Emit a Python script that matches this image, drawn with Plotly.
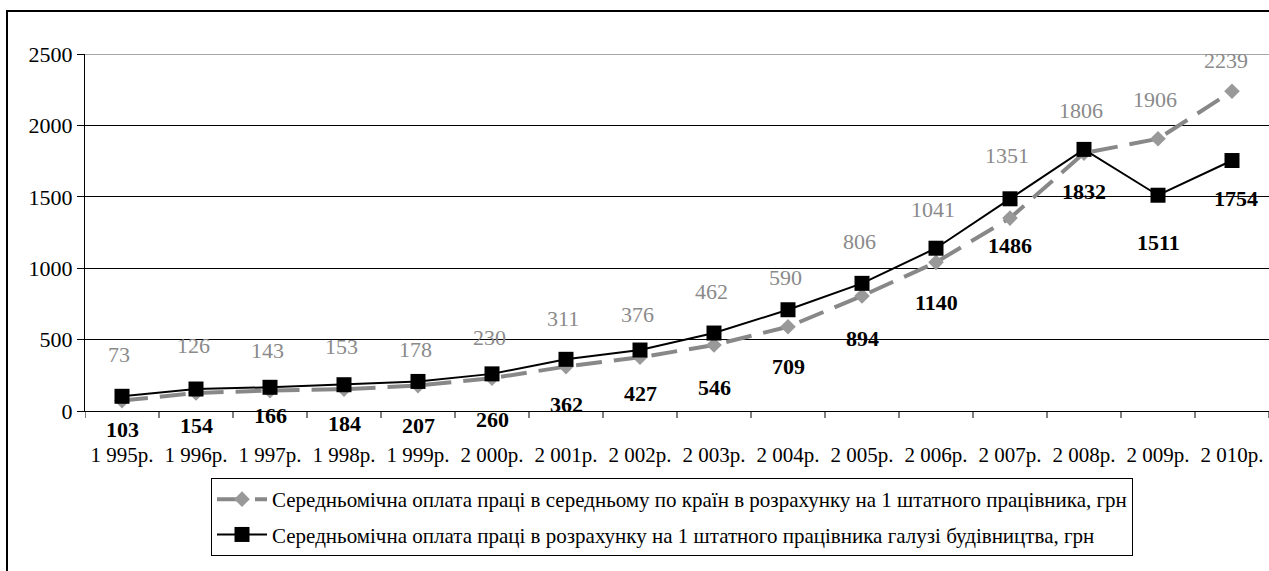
import plotly.graph_objects as go

years = ["1 995р.", "1 996р.", "1 997р.", "1 998р.", "1 999р.", "2 000р.", "2 001р.", "2 002р.",
         "2 003р.", "2 004р.", "2 005р.", "2 006р.", "2 007р.", "2 008р.", "2 009р.", "2 010р."]
country_avg = [73, 126, 143, 153, 178, 230, 311, 376, 462, 590, 806, 1041, 1351, 1806, 1906, 2239]
construction = [103, 154, 166, 184, 207, 260, 362, 427, 546, 709, 894, 1140, 1486, 1832, 1511, 1754]

name_avg = "Середньомічна оплата праці в середньому по країн в розрахунку на 1 штатного працівника, грн"
name_con = "Середньомічна оплата праці в розрахунку на 1 штатного працівника галузі будівництва, грн"

# label pixel offsets (style only)
avg_shift = [46, 48, 40, 43, 36, 41, 48, 43, 54, 49, 54, 53, 63, 43, 39, 31]
con_shift = [-33, -36, -28, -39, -44, -46, -45, -43, -54, -57, -55, -54, -47, -42, -47, -38]
con_xshift = [0] * 15 + [4]
avg_xshift = [-3] * 15 + [-6]

FONT = "Liberation Serif, Times New Roman, DejaVu Serif, serif"
idx = list(range(len(years)))

fig = go.Figure()
fig.add_trace(go.Scatter(
    x=idx, y=country_avg, name=name_avg, mode="lines+markers",
    line=dict(color="#888888", width=4, dash="26px,12px"),
    marker=dict(symbol="diamond", size=12, color="#999999"),
    legendgroup="a", cliponaxis=False,
))
fig.add_trace(go.Scatter(
    x=idx, y=construction, name=name_con, mode="lines+markers",
    line=dict(color="black", width=2),
    marker=dict(symbol="square", size=15, color="black"),
    legendgroup="b", cliponaxis=False,
))

for i, v in enumerate(country_avg):
    fig.add_annotation(x=i, y=v, text=str(v), showarrow=False, yshift=avg_shift[i],
                       xshift=avg_xshift[i],
                       font=dict(family=FONT, size=22, color="#8a8a8a"))
for i, v in enumerate(construction):
    fig.add_annotation(x=i, y=v, text="<b>" + str(v) + "</b>", showarrow=False,
                       yshift=con_shift[i], xshift=con_xshift[i],
                       font=dict(family=FONT, size=22, color="black"))

L, T, B = 85, 54, 160
W, H = 1269, 571
pw = W - L
ph = H - T - B
spacing = 74.0

fig.update_layout(
    width=W, height=H,
    margin=dict(l=L, r=0, t=T, b=B),
    paper_bgcolor="white", plot_bgcolor="white",
    font=dict(family=FONT, size=22, color="black"),
    showlegend=True,
    legend=dict(
        x=(211 - L) / pw, xanchor="left",
        y=-(478 - (T + ph)) / ph, yanchor="top",
        bordercolor="black", borderwidth=1, bgcolor="white",
        font=dict(family=FONT, size=21, color="black"),
        tracegroupgap=5, traceorder="grouped", itemwidth=50,
    ),
    xaxis=dict(
        type="linear", range=[-0.5, -0.5 + pw / spacing],
        tickmode="array", tickvals=idx, ticktext=years,
        showgrid=False, showline=True, linecolor="black", linewidth=1,
        ticks="", ticklabelstandoff=25, ticklabeloverflow="allow",
        tickfont=dict(family=FONT, size=21, color="black"),
        zeroline=False, fixedrange=True,
    ),
    yaxis=dict(
        range=[0, 2500], dtick=500, tick0=0,
        showgrid=True, gridcolor="black", gridwidth=1,
        showline=True, linecolor="black", linewidth=1,
        ticks="outside", ticklen=7, tickcolor="black",
        tickfont=dict(family=FONT, size=22, color="black"),
        zeroline=False, fixedrange=True,
    ),
)

# category boundary tick marks on x-axis
for k in range(len(years) + 1):
    fig.add_shape(type="line", xref="x", yref="paper", x0=k - 0.5, x1=k - 0.5,
                  y0=0, y1=-7 / ph, line=dict(color="black", width=1))

# top gridline drawn gray
fig.add_shape(type="line", xref="paper", yref="y", x0=0, x1=1, y0=2500, y1=2500,
              line=dict(color="#888888", width=1.5))

# outer frame
fig.add_shape(type="rect", xref="paper", yref="paper",
              x0=(7 - L) / pw, x1=(1275 - L) / pw,
              y0=-(580 - (T + ph)) / ph, y1=((T + ph) - 11) / ph,
              line=dict(color="black", width=2), fillcolor="rgba(0,0,0,0)", layer="below")

fig.write_html("out.html", config={"displayModeBar": False},
               post_script="document.body.style.margin='0';document.body.style.overflow='hidden';")
